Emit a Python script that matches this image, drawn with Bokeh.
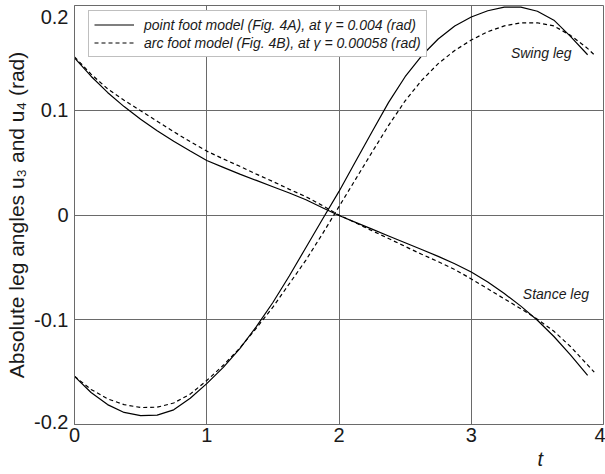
from bokeh.plotting import figure
from bokeh.models import Range1d, FixedTicker, Label, Legend, LegendItem, Title
from bokeh.embed import file_html
from bokeh.resources import INLINE

# ---- data ----
t_point = [0, 0.125, 0.25, 0.375, 0.5, 0.625, 0.75, 0.875, 1.0, 1.125, 1.25, 1.375,
           1.5, 1.625, 1.75, 1.875, 2.0, 2.125, 2.25, 2.375, 2.5, 2.625, 2.75, 2.875,
           3.0, 3.125, 3.25, 3.375, 3.5, 3.625, 3.75, 3.88]
u3_point = [0.150, 0.1325, 0.117, 0.1035, 0.0915, 0.0805, 0.0705, 0.061, 0.052, 0.0455,
            0.039, 0.033, 0.027, 0.021, 0.0145, 0.007, -0.0005, -0.007, -0.0135, -0.020,
            -0.0265, -0.033, -0.0395, -0.0465, -0.0545, -0.064, -0.075, -0.087, -0.1005,
            -0.116, -0.1335, -0.153]
u4_point = [-0.154, -0.1695, -0.181, -0.1885, -0.1915, -0.191, -0.186, -0.175, -0.161,
            -0.1455, -0.1275, -0.1065, -0.0835, -0.058, -0.031, -0.004, 0.0225, 0.051,
            0.0795, 0.1075, 0.132, 0.152, 0.168, 0.1805, 0.189, 0.195, 0.1985, 0.1985,
            0.1945, 0.186, 0.1705, 0.153]

t_arc = [0, 0.125, 0.25, 0.375, 0.5, 0.625, 0.75, 0.875, 1.0, 1.125, 1.25, 1.375,
         1.5, 1.625, 1.75, 1.875, 2.0, 2.125, 2.25, 2.375, 2.5, 2.625, 2.75, 2.875,
         3.0, 3.125, 3.25, 3.375, 3.5, 3.625, 3.75, 3.875, 3.93]
u3_arc = [0.151, 0.1345, 0.1205, 0.1095, 0.0995, 0.0895, 0.0795, 0.070, 0.061, 0.0535,
          0.0465, 0.039, 0.032, 0.0245, 0.0175, 0.009, 0.0, -0.0075, -0.015, -0.0225,
          -0.030, -0.0375, -0.0445, -0.052, -0.061, -0.0705, -0.080, -0.0895, -0.0995,
          -0.111, -0.1255, -0.1425, -0.150]
u4_arc = [-0.154, -0.1665, -0.1755, -0.181, -0.1838, -0.1835, -0.1795, -0.171, -0.158,
          -0.1435, -0.127, -0.108, -0.088, -0.0655, -0.043, -0.018, 0.008, 0.034, 0.060,
          0.0855, 0.109, 0.1285, 0.1445, 0.157, 0.167, 0.175, 0.1805, 0.1835, 0.1835,
          0.1805, 0.1715, 0.1595, 0.153]

x_ticks = [0, 1, 2, 3, 4]
x_tick_labels = ["0", "1", "2", "3", "4"]
y_ticks = [-0.2, -0.1, 0, 0.1, 0.2]
y_tick_labels = ["-0.2", "-0.1", "0", "0.1", "0.2"]
legend_labels = ["point foot model (Fig. 4A), at \u03b3 = 0.004 (rad)",
                 "arc foot model (Fig. 4B), at \u03b3 = 0.00058 (rad)"]
y_title = "Absolute leg angles u\u2083 and u\u2084 (rad)"
x_title = "t"
swing_text = "Swing leg"
stance_text = "Stance leg"

FONT = "Liberation Sans"
TXT = "#1a1a1a"
GRID = "#6a6a6a"

p = figure(width=605, height=474, x_range=Range1d(0, 4), y_range=Range1d(-0.2, 0.2),
           output_backend="svg", toolbar_location=None,
           min_border_left=74, min_border_right=2, min_border_top=5, min_border_bottom=50)
p.background_fill_color = "white"
p.border_fill_color = "white"
p.outline_line_color = GRID
p.outline_line_width = 1

# axes
for ax in (p.xaxis[0], p.yaxis[0]):
    ax.axis_line_color = GRID
    ax.major_tick_line_color = None
    ax.minor_tick_line_color = None
    ax.major_tick_out = 0
    ax.major_tick_in = 0
    ax.major_label_text_font = FONT
    ax.major_label_text_font_size = "20px"
    ax.major_label_text_color = TXT

p.xaxis.ticker = FixedTicker(ticks=x_ticks)
p.xaxis.major_label_overrides = {v: s for v, s in zip(x_ticks, x_tick_labels)}
p.xaxis.major_label_standoff = 3

p.yaxis.ticker = FixedTicker(ticks=y_ticks)
ov = {v: s for v, s in zip(y_ticks, y_tick_labels)}
# the end labels sit inside the frame's height, as in the original
ov[0.2] = "\n" + y_tick_labels[-1]
ov[-0.2] = y_tick_labels[0] + "\n"
p.yaxis.major_label_overrides = ov
p.yaxis.major_label_text_line_height = 0.25
p.yaxis.major_label_standoff = 6
p.yaxis.axis_label = y_title
p.yaxis.axis_label_text_font = FONT
p.yaxis.axis_label_text_font_size = "21px"
p.yaxis.axis_label_text_font_style = "normal"
p.yaxis.axis_label_text_color = TXT
p.yaxis.axis_label_standoff = 3

# grid
p.xgrid.ticker = FixedTicker(ticks=x_ticks)
p.ygrid.ticker = FixedTicker(ticks=y_ticks)
for g in (p.xgrid[0], p.ygrid[0]):
    g.grid_line_color = GRID
    g.grid_line_width = 1
    g.grid_line_alpha = 1

# curves
r_st_pt = p.line(t_point, u3_point, line_color="black", line_width=1.2)
r_sw_pt = p.line(t_point, u4_point, line_color="black", line_width=1.2)
r_st_arc = p.line(t_arc, u3_arc, line_color="black", line_width=1.2, line_dash="4 3")
r_sw_arc = p.line(t_arc, u4_arc, line_color="black", line_width=1.2, line_dash="4 3")

legend = Legend(items=[LegendItem(label=legend_labels[0], renderers=[r_st_pt]),
                       LegendItem(label=legend_labels[1], renderers=[r_st_arc])],
                location=(14, 367))
legend.label_text_font = FONT
legend.label_text_font_size = "14px"
legend.label_text_font_style = "italic"
legend.label_text_color = TXT
legend.border_line_color = "#808080"
legend.border_line_width = 1
legend.background_fill_color = "white"
legend.background_fill_alpha = 1
legend.padding = 5
legend.spacing = 1
legend.margin = 0
legend.glyph_width = 40
legend.glyph_height = 17
legend.label_height = 17
legend.label_standoff = 10
p.add_layout(legend)

# annotations
p.add_layout(Label(x=3.30, y=0.155, text=swing_text, text_align="left",
                   text_baseline="middle", text_font=FONT, text_font_size="14px",
                   text_font_style="italic", text_color=TXT))
p.add_layout(Label(x=3.39, y=-0.075, text=stance_text, text_align="left",
                   text_baseline="middle", text_font=FONT, text_font_size="14px",
                   text_font_style="italic", text_color=TXT))

xt = Title(text=x_title, align="left", offset=463, standoff=2,
           text_font=FONT, text_font_size="20px", text_font_style="italic",
           text_color=TXT)
p.add_layout(xt, "below")

open("out.html", "w").write(file_html(p, INLINE))
